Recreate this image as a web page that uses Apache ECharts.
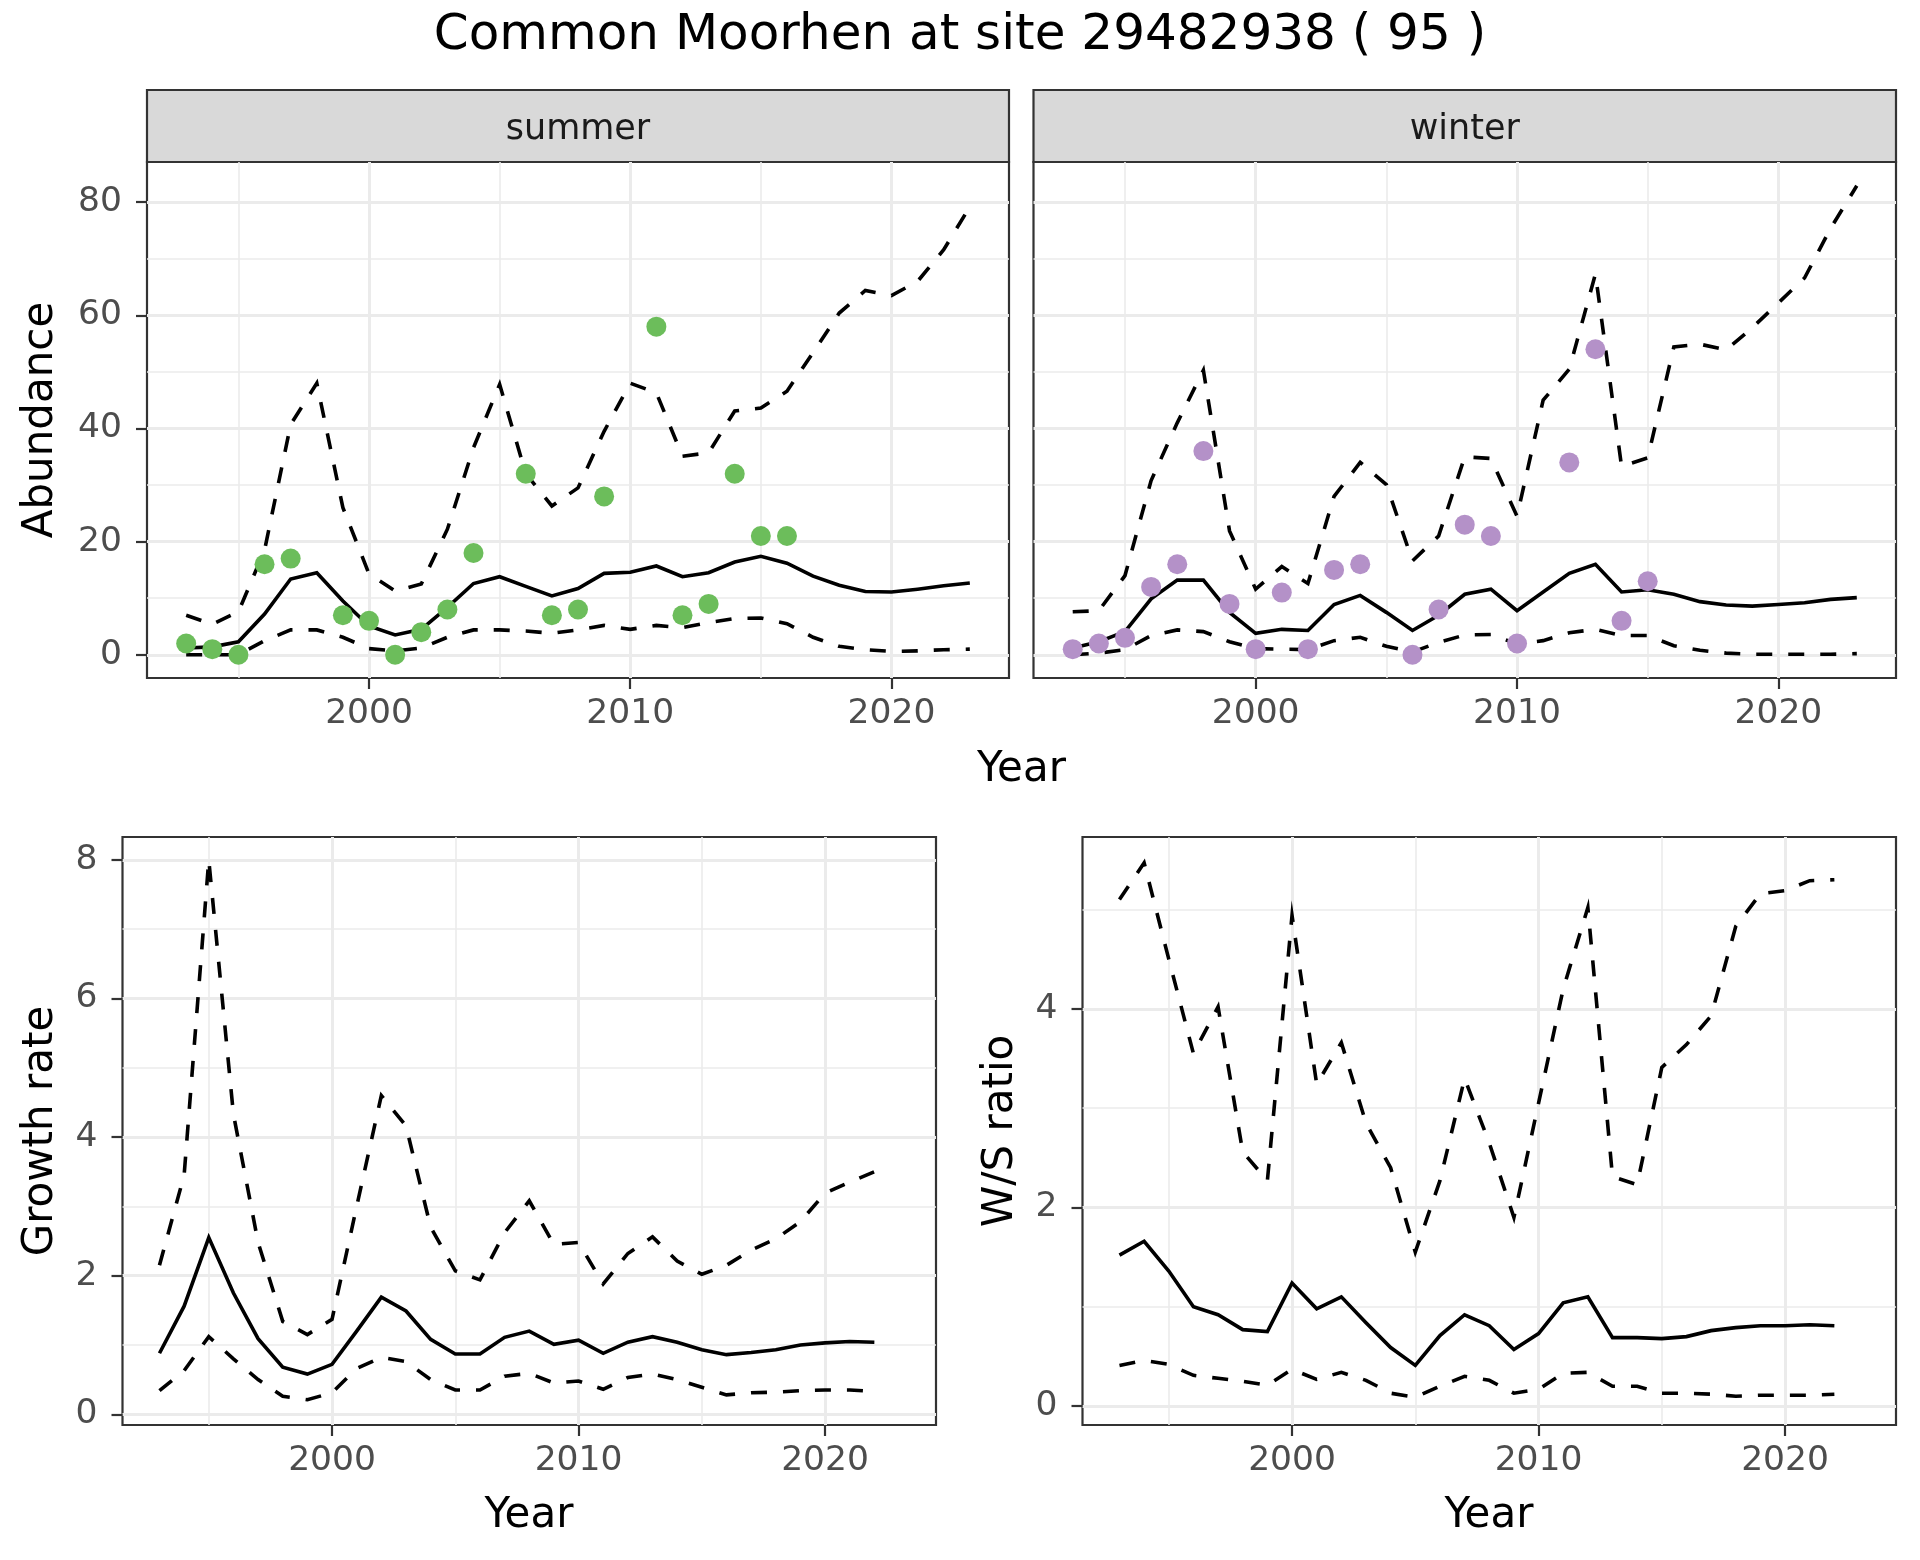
<!DOCTYPE html>
<html><head><meta charset="utf-8">
<script src="https://cdn.jsdelivr.net/npm/echarts@6/dist/echarts.min.js"></script>
<style>html,body{margin:0;padding:0;background:#fff}#c{width:1920px;height:1560px}</style>
</head><body><div id="c"></div>
<script>
// ---------- data ----------
const yearsTop = [1993,1994,1995,1996,1997,1998,1999,2000,2001,2002,2003,2004,2005,2006,2007,2008,2009,2010,2011,2012,2013,2014,2015,2016,2017,2018,2019,2020,2021,2022,2023];
const yearsBottom = [1993,1994,1995,1996,1997,1998,1999,2000,2001,2002,2003,2004,2005,2006,2007,2008,2009,2010,2011,2012,2013,2014,2015,2016,2017,2018,2019,2020,2021,2022];

const summerObs   = [2,1,0,16,17,null,7,6,0,4,8,18,null,32,7,8,28,null,58,7,9,32,21,21,null,null,null,null,null,null,null];
const summerMean  = [1.2,1.4,2.3,7.2,13.4,14.5,9.5,5.1,3.5,4.5,8.4,12.6,13.8,12.1,10.4,11.7,14.4,14.6,15.7,13.8,14.5,16.4,17.4,16.2,13.9,12.3,11.2,11.1,11.6,12.2,12.7];
const summerUpper = [7.0,5.4,7.6,18.5,40.7,48,26,14.3,11.3,12.5,22.2,36.6,47.8,32,26.3,29.5,39.5,48,46.3,35.1,35.7,43.1,43.6,46.6,53.4,60.4,64.4,63.5,66,71.6,79.2];
const summerLower = [0,0,0,2.5,4.4,4.4,3.1,1.1,0.7,1.2,3.1,4.4,4.4,4.2,3.8,4.4,5.2,4.5,5.2,4.8,5.7,6.4,6.5,5.5,3.1,1.5,0.9,0.6,0.7,0.9,1.0];

const winterObs   = [1,2,3,12,16,36,9,1,11,1,15,16,null,0,8,23,21,2,null,34,54,6,13,null,null,null,null,null,null,null,null];
const winterMean  = [1.2,2.3,4.1,9.9,13.2,13.2,7.5,3.8,4.5,4.3,8.9,10.5,7.5,4.3,7.0,10.7,11.6,7.8,11.1,14.4,16.0,11.1,11.5,10.7,9.4,8.8,8.6,8.9,9.2,9.8,10.1];
const winterUpper = [7.6,7.8,14,30.8,41,50.3,21.9,11.6,15.6,12.6,28,34,30.1,16.6,21,35,34.7,24.5,45,50.5,67.3,33.3,34.8,54.4,54.9,53.9,57.8,62.2,66.6,75.4,82.9];
const winterLower = [0,0.3,0.9,3.4,4.4,4.1,2.3,1.1,1.0,0.9,2.5,3.1,1.5,0.5,2.2,3.5,3.6,1.9,2.5,3.9,4.5,3.4,3.4,1.6,0.8,0.3,0.1,0.1,0.1,0.1,0.2];

const growthMean  = [0.88,1.56,2.55,1.75,1.09,0.68,0.58,0.72,1.2,1.69,1.49,1.08,0.87,0.87,1.11,1.2,1.01,1.07,0.88,1.04,1.12,1.04,0.93,0.86,0.89,0.93,1.0,1.03,1.05,1.04];
const growthUpper = [2.15,3.45,8.0,4.33,2.48,1.34,1.15,1.37,3.0,4.6,4.16,2.7,2.07,1.94,2.62,3.08,2.45,2.48,1.88,2.32,2.56,2.21,2.02,2.15,2.37,2.53,2.78,3.19,3.35,3.5];
const growthLower = [0.34,0.63,1.12,0.8,0.5,0.26,0.21,0.31,0.66,0.82,0.76,0.5,0.35,0.35,0.55,0.59,0.45,0.48,0.36,0.53,0.58,0.5,0.39,0.28,0.31,0.32,0.34,0.35,0.35,0.33];

const wsMean  = [1.52,1.66,1.36,1.0,0.92,0.77,0.75,1.24,0.98,1.1,0.84,0.59,0.41,0.71,0.92,0.81,0.57,0.73,1.04,1.1,0.69,0.69,0.68,0.7,0.76,0.79,0.81,0.81,0.82,0.81];
const wsUpper = [5.1,5.47,4.5,3.55,4.02,2.56,2.27,4.94,3.24,3.66,2.85,2.4,1.55,2.27,3.3,2.65,1.9,3.05,4.2,5.02,2.31,2.23,3.41,3.64,3.93,4.83,5.16,5.19,5.29,5.3];
const wsLower = [0.41,0.46,0.42,0.31,0.28,0.25,0.21,0.37,0.27,0.34,0.26,0.13,0.09,0.2,0.3,0.26,0.13,0.17,0.33,0.34,0.2,0.2,0.13,0.13,0.12,0.1,0.11,0.11,0.11,0.12];

const xTicks = [2000,2010,2020];
const xMinor = [1995,2005,2015];
const abundTicks = [0,20,40,60,80];
const abundMinor = [10,30,50,70];
const growthTicks = [0,2,4,6,8];
const growthMinor = [1,3,5,7];
const wsTicks = [0,2,4];
const wsMinor = [1,3,5];

const titleText = 'Common Moorhen at site 29482938 ( 95 )';
const stripLabels = ['summer','winter'];
const yTitles = ['Abundance','Growth rate','W/S ratio'];
const xTitle = 'Year';

// ---------- helpers ----------
const FONT = 'DejaVu Sans';
const GRID_C = '#EBEBEB';
const DARK = '#333333';
const plain = v => String(v);
const pairs = (xs, ys) => xs.map((x,i)=>[x, ys[i]]).filter(p=>p[1]!==null && p[1]!==undefined);

const grids = [
  {left:147, top:162, width:862, height:516},
  {left:1033.5, top:162, width:862.5, height:516},
  {left:122.5, top:837, width:813.5, height:588},
  {left:1082.5, top:837, width:813.5, height:588}
].map(g=>Object.assign({show:true, borderColor:DARK, borderWidth:2.2, backgroundColor:'rgba(0,0,0,0)', containLabel:false}, g));

const xAxes = [], yAxes = [];
function addX(gi, showLabels){
  xAxes.push({type:'value', gridIndex:gi, min:1991.5, max:2024.5, position:'bottom',
    axisLine:{show:false, onZero:false},
    axisTick:{show:true, customValues:xTicks, length:11, lineStyle:{color:DARK, width:2.2}},
    axisLabel:{show:showLabels, customValues:xTicks, formatter:plain, margin:19, fontSize:34.5, lineHeight:34, color:'#4D4D4D', fontFamily:FONT},
    splitLine:{show:true, lineStyle:{color:GRID_C, width:3}}
  });
  xAxes.push({type:'value', gridIndex:gi, min:1991.5, max:2024.5, position:'top',
    axisLine:{show:false, onZero:false},
    axisTick:{show:false, customValues:xMinor},
    axisLabel:{show:false, customValues:xMinor, formatter:plain},
    splitLine:{show:true, lineStyle:{color:GRID_C, width:1.6}}
  });
}
function addY(gi, min, max, majors, minors, showLabels){
  yAxes.push({type:'value', gridIndex:gi, min:min, max:max, position:'left',
    axisLine:{show:false, onZero:false},
    axisTick:{show:showLabels, customValues:majors, length:11, lineStyle:{color:DARK, width:2.2}},
    axisLabel:{show:showLabels, customValues:majors, formatter:plain, margin:25, fontSize:34.5, color:'#4D4D4D', fontFamily:FONT},
    splitLine:{show:true, lineStyle:{color:GRID_C, width:3}}
  });
  yAxes.push({type:'value', gridIndex:gi, min:min, max:max, position:'right',
    axisLine:{show:false, onZero:false},
    axisTick:{show:false, customValues:minors},
    axisLabel:{show:false, customValues:minors, formatter:plain},
    splitLine:{show:true, lineStyle:{color:GRID_C, width:1.6}}
  });
}
addX(0,true); addY(0,-4.1,87.1,abundTicks,abundMinor,true);
addX(1,true); addY(1,-4.1,87.1,abundTicks,abundMinor,false);
addX(2,true); addY(2,-0.155,8.33,growthTicks,growthMinor,true);
addX(3,true); addY(3,-0.19,5.73,wsTicks,wsMinor,true);

const series = [];
function addLine(gi, xs, ys, dashed){
  series.push({type:'line', xAxisIndex:2*gi, yAxisIndex:2*gi, data:pairs(xs,ys),
    symbol:'none', showSymbol:false, silent:true, z:2,
    lineStyle:{color:'#000000', width:3.6, type: dashed ? [16,16] : 'solid', cap:'butt', join:'miter'}});
}
function addPoints(gi, xs, ys, color){
  series.push({type:'scatter', xAxisIndex:2*gi, yAxisIndex:2*gi, data:pairs(xs,ys),
    symbol:'circle', symbolSize:20, silent:true, z:3, itemStyle:{color:color, opacity:1}});
}
addLine(0, yearsTop, summerUpper, true);
addLine(0, yearsTop, summerLower, true);
addLine(0, yearsTop, summerMean, false);
addPoints(0, yearsTop, summerObs, '#6cbd5b');
addLine(1, yearsTop, winterUpper, true);
addLine(1, yearsTop, winterLower, true);
addLine(1, yearsTop, winterMean, false);
addPoints(1, yearsTop, winterObs, '#b491c8');
addLine(2, yearsBottom, growthUpper, true);
addLine(2, yearsBottom, growthLower, true);
addLine(2, yearsBottom, growthMean, false);
addLine(3, yearsBottom, wsUpper, true);
addLine(3, yearsBottom, wsLower, true);
addLine(3, yearsBottom, wsMean, false);

const txt = (x,y,text,size,fill,rot)=>({type:'text', x:x, y:y, rotation:rot||0, silent:true,
  style:{text:text, fontSize:size, fill:fill, fontFamily:FONT, align:'center', verticalAlign:'middle'}});

const graphic = [
  {type:'rect', shape:{x:147, y:90, width:862, height:72}, style:{fill:'#D9D9D9', stroke:DARK, lineWidth:2.2}, silent:true},
  {type:'rect', shape:{x:1033.5, y:90, width:862.5, height:72}, style:{fill:'#D9D9D9', stroke:DARK, lineWidth:2.2}, silent:true},
  txt(578, 130, stripLabels[0], 35, '#1A1A1A'),
  txt(1464.75, 130, stripLabels[1], 35, '#1A1A1A'),
  txt(960, 36.5, titleText, 50, '#000000'),
  txt(1021.5, 770, xTitle, 42, '#000000'),
  txt(529, 1516, xTitle, 42, '#000000'),
  txt(1489, 1516, xTitle, 42, '#000000'),
  txt(41, 420, yTitles[0], 42, '#000000', Math.PI/2),
  txt(41, 1131, yTitles[1], 42, '#000000', Math.PI/2),
  txt(1001, 1131, yTitles[2], 42, '#000000', Math.PI/2)
];

const chart = echarts.init(document.getElementById('c'), null, {renderer:'canvas'});
chart.setOption({
  animation:false,
  backgroundColor:'#ffffff',
  textStyle:{fontFamily:FONT},
  grid:grids, xAxis:xAxes, yAxis:yAxes, series:series, graphic:graphic
});
</script></body></html>
